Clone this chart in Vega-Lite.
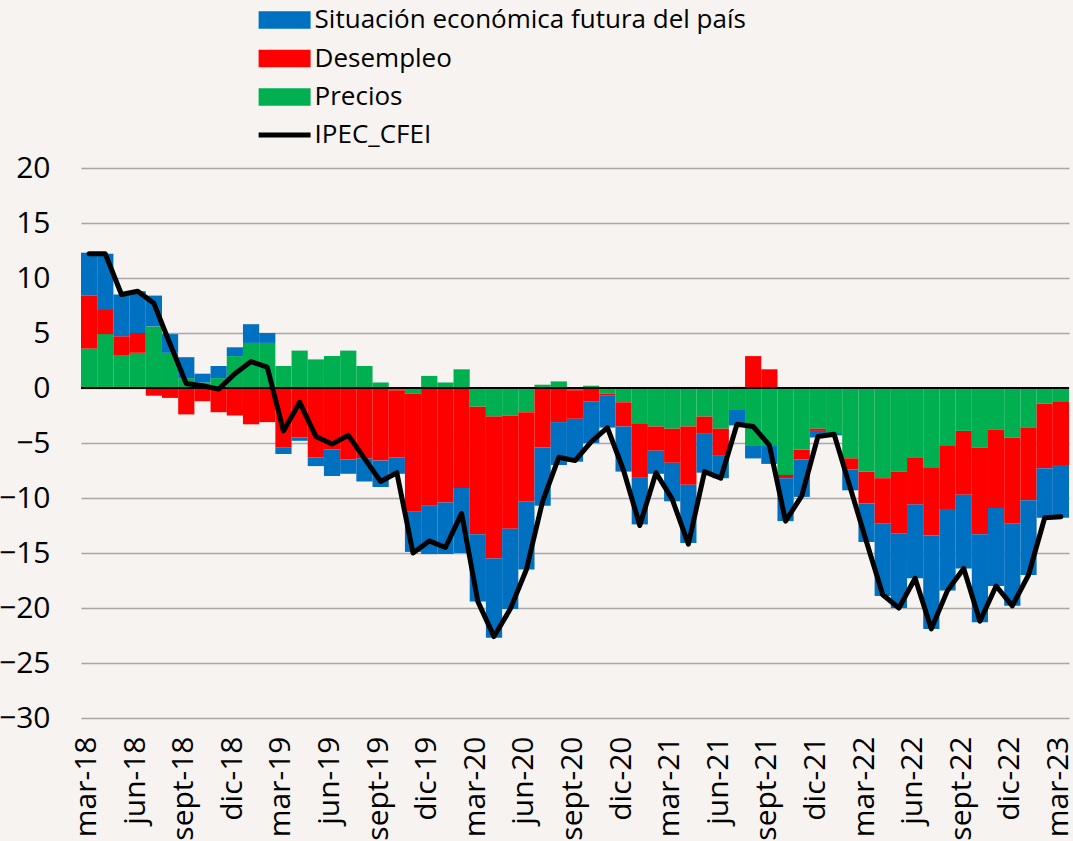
{
  "$schema": "https://vega.github.io/schema/vega-lite/v6.json",
  "autosize": {"type": "none"},
  "width": 988,
  "height": 550,
  "padding": {"left": 81, "top": 168, "right": 4, "bottom": 123},
  "background": "#f6f3f0",
  "config": {
    "view": {"stroke": null},
    "font": "Open Sans",
    "axis": {"labelFont": "Open Sans", "labelColor": "#000000", "labelFontSize": 30},
    "legend": {"labelFont": "Open Sans", "labelColor": "#000000", "labelFontSize": 26, "labelLimit": 800, "padding": 0}
  },
  "datasets": {
    "meses": [
      {"mes": "mar-18", "sit": 3.9, "des": 4.8, "pre": 3.6, "ipec": 12.2},
      {"mes": "abr-18", "sit": 5.1, "des": 2.2, "pre": 4.9, "ipec": 12.2},
      {"mes": "may-18", "sit": 3.8, "des": 1.7, "pre": 3.0, "ipec": 8.5},
      {"mes": "jun-18", "sit": 3.8, "des": 1.8, "pre": 3.2, "ipec": 8.8},
      {"mes": "jul-18", "sit": 2.8, "des": -0.7, "pre": 5.6, "ipec": 7.7},
      {"mes": "ago-18", "sit": 1.7, "des": -0.9, "pre": 3.2, "ipec": 4.0},
      {"mes": "sept-18", "sit": 1.9, "des": -2.4, "pre": 0.9, "ipec": 0.4},
      {"mes": "oct-18", "sit": 0.8, "des": -1.2, "pre": 0.5, "ipec": 0.2},
      {"mes": "nov-18", "sit": 1.1, "des": -2.2, "pre": 0.9, "ipec": -0.1},
      {"mes": "dic-18", "sit": 0.8, "des": -2.5, "pre": 2.9, "ipec": 1.3},
      {"mes": "ene-19", "sit": 1.7, "des": -3.3, "pre": 4.1, "ipec": 2.4},
      {"mes": "feb-19", "sit": 0.9, "des": -3.1, "pre": 4.1, "ipec": 1.9},
      {"mes": "mar-19", "sit": -0.6, "des": -5.4, "pre": 2.0, "ipec": -3.9},
      {"mes": "abr-19", "sit": -0.3, "des": -4.5, "pre": 3.4, "ipec": -1.3},
      {"mes": "may-19", "sit": -0.8, "des": -6.3, "pre": 2.6, "ipec": -4.4},
      {"mes": "jun-19", "sit": -2.4, "des": -5.6, "pre": 2.9, "ipec": -5.1},
      {"mes": "jul-19", "sit": -1.3, "des": -6.5, "pre": 3.4, "ipec": -4.3},
      {"mes": "ago-19", "sit": -2.1, "des": -6.4, "pre": 2.0, "ipec": -6.4},
      {"mes": "sept-19", "sit": -2.4, "des": -6.6, "pre": 0.5, "ipec": -8.5},
      {"mes": "oct-19", "sit": -1.5, "des": -6.1, "pre": -0.2, "ipec": -7.7},
      {"mes": "nov-19", "sit": -3.7, "des": -10.7, "pre": -0.5, "ipec": -15.0},
      {"mes": "dic-19", "sit": -4.4, "des": -10.7, "pre": 1.1, "ipec": -13.9},
      {"mes": "ene-20", "sit": -4.7, "des": -10.4, "pre": 0.5, "ipec": -14.5},
      {"mes": "feb-20", "sit": -5.9, "des": -9.1, "pre": 1.7, "ipec": -11.4},
      {"mes": "mar-20", "sit": -6.1, "des": -11.6, "pre": -1.7, "ipec": -19.4},
      {"mes": "abr-20", "sit": -7.2, "des": -12.9, "pre": -2.6, "ipec": -22.6},
      {"mes": "may-20", "sit": -7.3, "des": -10.3, "pre": -2.5, "ipec": -20.1},
      {"mes": "jun-20", "sit": -6.2, "des": -8.1, "pre": -2.2, "ipec": -16.5},
      {"mes": "jul-20", "sit": -5.3, "des": -5.4, "pre": 0.3, "ipec": -10.3},
      {"mes": "ago-20", "sit": -3.9, "des": -3.1, "pre": 0.6, "ipec": -6.3},
      {"mes": "sept-20", "sit": -3.9, "des": -2.6, "pre": -0.2, "ipec": -6.6},
      {"mes": "oct-20", "sit": -3.8, "des": -1.2, "pre": 0.2, "ipec": -4.9},
      {"mes": "nov-20", "sit": -2.9, "des": -0.2, "pre": -0.5, "ipec": -3.6},
      {"mes": "dic-20", "sit": -4.1, "des": -2.2, "pre": -1.3, "ipec": -7.5},
      {"mes": "ene-21", "sit": -4.3, "des": -4.9, "pre": -3.2, "ipec": -12.5},
      {"mes": "feb-21", "sit": -2.1, "des": -2.2, "pre": -3.5, "ipec": -7.7},
      {"mes": "mar-21", "sit": -3.5, "des": -3.1, "pre": -3.7, "ipec": -10.1},
      {"mes": "abr-21", "sit": -5.3, "des": -5.3, "pre": -3.5, "ipec": -14.2},
      {"mes": "may-21", "sit": -3.6, "des": -1.5, "pre": -2.6, "ipec": -7.6},
      {"mes": "jun-21", "sit": -2.1, "des": -2.4, "pre": -3.7, "ipec": -8.2},
      {"mes": "jul-21", "sit": -1.4, "des": 0.1, "pre": -2.0, "ipec": -3.3},
      {"mes": "ago-21", "sit": -1.2, "des": 2.9, "pre": -5.2, "ipec": -3.5},
      {"mes": "sept-21", "sit": -1.7, "des": 1.7, "pre": -5.2, "ipec": -5.2},
      {"mes": "oct-21", "sit": -3.9, "des": -0.3, "pre": -7.9, "ipec": -12.1},
      {"mes": "nov-21", "sit": -3.4, "des": -0.9, "pre": -5.6, "ipec": -9.8},
      {"mes": "dic-21", "sit": -0.6, "des": -0.2, "pre": -3.7, "ipec": -4.4},
      {"mes": "ene-22", "sit": -0.2, "des": 0.0, "pre": -4.1, "ipec": -4.2},
      {"mes": "feb-22", "sit": -1.9, "des": -1.0, "pre": -6.4, "ipec": -9.1},
      {"mes": "mar-22", "sit": -3.5, "des": -2.9, "pre": -7.6, "ipec": -14.0},
      {"mes": "abr-22", "sit": -6.6, "des": -4.1, "pre": -8.2, "ipec": -18.8},
      {"mes": "may-22", "sit": -6.8, "des": -5.6, "pre": -7.6, "ipec": -20.0},
      {"mes": "jun-22", "sit": -6.7, "des": -4.3, "pre": -6.3, "ipec": -17.3},
      {"mes": "jul-22", "sit": -8.5, "des": -6.2, "pre": -7.2, "ipec": -21.9},
      {"mes": "ago-22", "sit": -7.4, "des": -5.8, "pre": -5.2, "ipec": -18.4},
      {"mes": "sept-22", "sit": -6.7, "des": -5.8, "pre": -3.9, "ipec": -16.4},
      {"mes": "oct-22", "sit": -8.0, "des": -7.9, "pre": -5.4, "ipec": -21.2},
      {"mes": "nov-22", "sit": -7.1, "des": -7.1, "pre": -3.8, "ipec": -18.0},
      {"mes": "dic-22", "sit": -7.5, "des": -7.8, "pre": -4.5, "ipec": -19.8},
      {"mes": "ene-23", "sit": -6.8, "des": -6.6, "pre": -3.6, "ipec": -17.0},
      {"mes": "feb-23", "sit": -4.5, "des": -5.9, "pre": -1.4, "ipec": -11.8},
      {"mes": "mar-23", "sit": -4.8, "des": -5.8, "pre": -1.2, "ipec": -11.7}
    ],
    "series": [
      {"serie": "pre", "nombre": "Precios", "orden": 1},
      {"serie": "des", "nombre": "Desempleo", "orden": 2},
      {"serie": "sit", "nombre": "Situación económica futura del país", "orden": 3}
    ]
  },
  "data": {"name": "meses"},
  "layer": [
    {
      "transform": [
        {"fold": ["pre", "des", "sit"], "as": ["serie", "valor"]},
        {"lookup": "serie", "from": {"data": {"name": "series"}, "key": "serie", "fields": ["nombre", "orden"]}}
      ],
      "mark": {"type": "bar"},
      "encoding": {
        "x": {
          "field": "mes", "type": "ordinal", "sort": null,
          "scale": {"paddingInner": 0, "paddingOuter": 0},
          "axis": {
            "title": null,
            "labelExpr": "indexof(['mar','jun','sept','dic'], split(datum.label, '-')[0]) >= 0 ? datum.label : ''",
            "labelAngle": -90, "labelAlign": "right", "labelBaseline": "middle",
            "labelOverlap": false, "labelBound": false, "labelFlush": false,
            "labelOffset": -2,
            "labelPadding": 18, "ticks": false, "tickSize": 0, "domain": false, "grid": false
          }
        },
        "y": {
          "field": "valor", "type": "quantitative", "stack": "zero",
          "scale": {"domain": [-30, 20], "nice": false},
          "axis": {
            "title": null,
            "values": [-30, -25, -20, -15, -10, -5, 0, 5, 10, 15, 20],
            "grid": true, "gridColor": "#a8a8a8", "gridWidth": 1.6,
            "ticks": false, "tickSize": 0, "domain": false, "labelPadding": 31
          }
        },
        "fill": {
          "field": "nombre", "type": "nominal",
          "scale": {
            "domain": ["Situación económica futura del país", "Desempleo", "Precios"],
            "range": ["#0070c0", "#ff0000", "#00b050"]
          },
          "legend": {
            "title": null, "orient": "none", "legendX": 190.6, "legendY": -161,
            "symbolType": "M-3,-1H3V1H-3Z", "symbolSize": 300, "symbolStrokeWidth": 0,
            "labelOffset": 17, "rowPadding": 12.5
          }
        },
        "order": {"field": "orden", "type": "quantitative"}
      }
    },
    {
      "mark": {"type": "rule", "color": "#000000", "strokeWidth": 2},
      "encoding": {"y": {"datum": 0, "type": "quantitative"}}
    },
    {
      "mark": {"type": "line", "strokeWidth": 5, "strokeJoin": "round", "strokeCap": "round"},
      "encoding": {
        "x": {"field": "mes", "type": "ordinal", "sort": null},
        "y": {"field": "ipec", "type": "quantitative"},
        "stroke": {
          "datum": "IPEC_CFEI",
          "scale": {"range": ["#000000"]},
          "legend": {
            "title": null, "orient": "none", "legendX": 190.6, "legendY": -46,
            "symbolType": "M-3,0H3", "symbolSize": 300, "symbolStrokeWidth": 5,
            "labelOffset": 17,
            "symbolStrokeColor": "#000000"
          }
        }
      }
    }
  ]
}
